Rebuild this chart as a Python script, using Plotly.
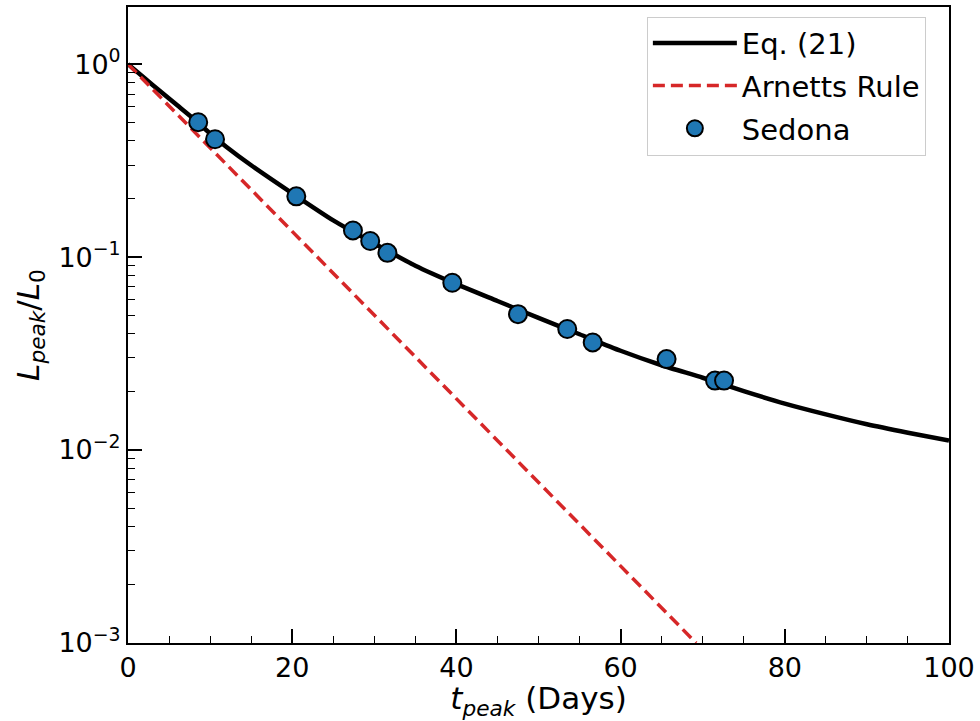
import plotly.graph_objects as go

# Eq. (21) curve
eq_t = [0, 2, 4, 6, 8, 10, 12, 15, 20, 25, 30, 35, 40, 45, 50, 55, 60, 65, 70, 75, 80, 85, 90, 95, 100]
eq_L = [1.0, 0.847, 0.719, 0.612, 0.521, 0.437, 0.372, 0.299, 0.214, 0.155, 0.1175, 0.0902, 0.0724,
        0.0592, 0.0484, 0.0398, 0.0327, 0.0275, 0.0237, 0.0202, 0.0174, 0.0153, 0.0136, 0.0123, 0.0112]

# Arnett's rule (straight line in log space)
arn_t = [0, 69.2]
arn_L = [1.0, 0.001]

# Sedona points
sed_t = [8.55, 10.6, 20.5, 27.4, 29.5, 31.6, 39.5, 47.5, 53.5, 56.6, 65.6, 71.5, 72.6]
sed_L = [0.50, 0.408, 0.2065, 0.1374, 0.1211, 0.1052, 0.0736, 0.0506, 0.0424, 0.0361, 0.0296, 0.0229, 0.0229]

x_ticks = [0, 20, 40, 60, 80, 100]
y_ticks = [0.001, 0.01, 0.1, 1]
y_ticktext = ["10<sup>−3</sup>", "10<sup>−2</sup>", "10<sup>−1</sup>", "10<sup>0</sup>"]
y_minor = [m * 10 ** e for e in (-3, -2, -1, 0) for m in range(2, 10)]

FONT = "DejaVu Sans"

fig = go.Figure()
fig.add_trace(go.Scatter(x=eq_t, y=eq_L, mode="lines", name="Eq. (21)", legendgroup="a",
                         line=dict(color="black", width=4.5, shape="spline", smoothing=0.6)))
fig.add_trace(go.Scatter(x=arn_t, y=arn_L, mode="lines", name="Arnetts Rule", legendgroup="b",
                         line=dict(color="#d62728", width=3.5, dash="12px,6px")))
fig.add_trace(go.Scatter(x=sed_t, y=sed_L, mode="markers", name="Sedona", legendgroup="c",
                         marker=dict(color="#1f77b4", size=18, line=dict(color="black", width=2))))

fig.update_layout(
    width=980, height=721,
    margin=dict(l=128, r=31, t=5, b=78),
    plot_bgcolor="white", paper_bgcolor="white",
    font=dict(family=FONT, size=27, color="black"),
    showlegend=True,
    legend=dict(x=0.632, y=0.985, xanchor="left", yanchor="top",
                bgcolor="rgba(255,255,255,0.8)", bordercolor="#cccccc", borderwidth=1,
                font=dict(family=FONT, size=29), itemwidth=84, tracegroupgap=2),
)

fig.update_xaxes(
    range=[0, 100], tickvals=x_ticks, ticks="inside", ticklen=14, tickwidth=1.5, tickcolor="black",
    showline=True, mirror=True, linecolor="black", linewidth=2, showgrid=False, zeroline=False,
    tickfont=dict(family=FONT, size=27),
    minor=dict(tickmode="array", tickvals=[5, 10, 15, 25, 30, 35, 45, 50, 55, 65, 70, 75, 85, 90, 95],
               ticks="inside", ticklen=7, tickwidth=1.2, tickcolor="black", showgrid=False),
    title=dict(text="<i>t</i><sub><i>peak</i></sub> (Days)", font=dict(family=FONT, size=31), standoff=2),
)
fig.update_yaxes(
    type="log", range=[-3, 0.296], tickvals=y_ticks, ticktext=y_ticktext,
    ticks="inside", ticklen=14, tickwidth=1.5, tickcolor="black",
    showline=True, mirror=True, linecolor="black", linewidth=2, showgrid=False, zeroline=False,
    tickfont=dict(family=FONT, size=27),
    minor=dict(tickmode="array", tickvals=y_minor, ticks="inside", ticklen=7, tickwidth=1.2,
               tickcolor="black", showgrid=False),
    title=dict(text="<i>L</i><sub><i>peak</i></sub>/<i>L</i><sub>0</sub>", font=dict(family=FONT, size=31), standoff=10),
)

fig.write_html("out.html", config={"displayModeBar": False},
               post_script="document.body.style.margin='0px';document.body.style.overflow='hidden';")
